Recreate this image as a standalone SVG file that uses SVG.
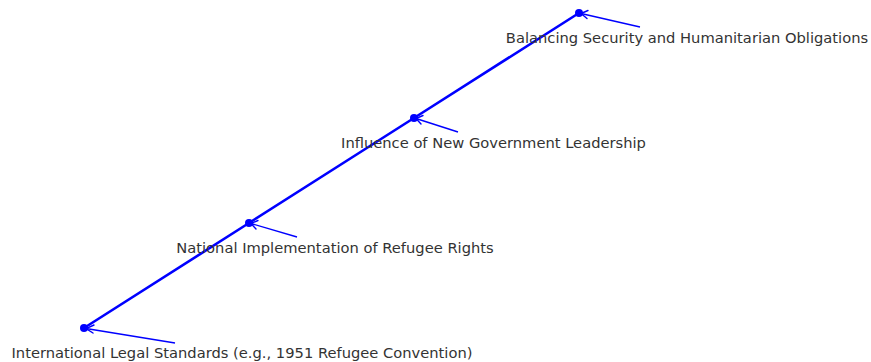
<svg xmlns="http://www.w3.org/2000/svg" width="871" height="362" viewBox="0 0 871 362">
  <style>
    .lbl { font-family: "DejaVu Sans", sans-serif; font-size: 14.7px; fill: #333333; text-anchor: middle; }
    .pt { fill: #0000ff; }
    .ann { stroke: #0000ff; stroke-width: 1.4; fill: none; }
    .ah { stroke: #0000ff; stroke-width: 1.4; fill: none; stroke-linecap: round; }
  </style>
  <rect width="871" height="362" fill="#ffffff"/>
  <g id="connectors">
    <polyline points="84,328 249,223 414,118 579,13" fill="none" stroke="#0000ff" stroke-width="2.6"/>
    <!-- annotation arrows pointing back to the markers -->
    <line class="ann" x1="175" y1="343" x2="86" y2="328.5"/>
    <polyline class="ah" points="94,325 86,328.5 93,333"/>
    <line class="ann" x1="297" y1="237" x2="251" y2="223.5"/>
    <polyline class="ah" points="258,220.5 251,223.5 256,229"/>
    <line class="ann" x1="458" y1="132" x2="416" y2="118.5"/>
    <polyline class="ah" points="423,115.5 416,118.5 421,124"/>
    <line class="ann" x1="640" y1="27" x2="581" y2="13.5"/>
    <polyline class="ah" points="588,10.5 581,13.5 587,18.5"/>
  </g>
  <g id="node-international">
    <circle class="pt" cx="84" cy="328" r="4"/>
    <text class="lbl" x="242" y="358">International Legal Standards (e.g., 1951 Refugee Convention)</text>
  </g>
  <g id="node-national">
    <circle class="pt" cx="249" cy="223" r="4"/>
    <text class="lbl" x="335" y="253">National Implementation of Refugee Rights</text>
  </g>
  <g id="node-leadership">
    <circle class="pt" cx="414" cy="118" r="4"/>
    <text class="lbl" x="493.5" y="148">Influence of New Government Leadership</text>
  </g>
  <g id="node-balancing">
    <circle class="pt" cx="579" cy="13" r="4"/>
    <text class="lbl" x="687" y="43">Balancing Security and Humanitarian Obligations</text>
  </g>
</svg>
